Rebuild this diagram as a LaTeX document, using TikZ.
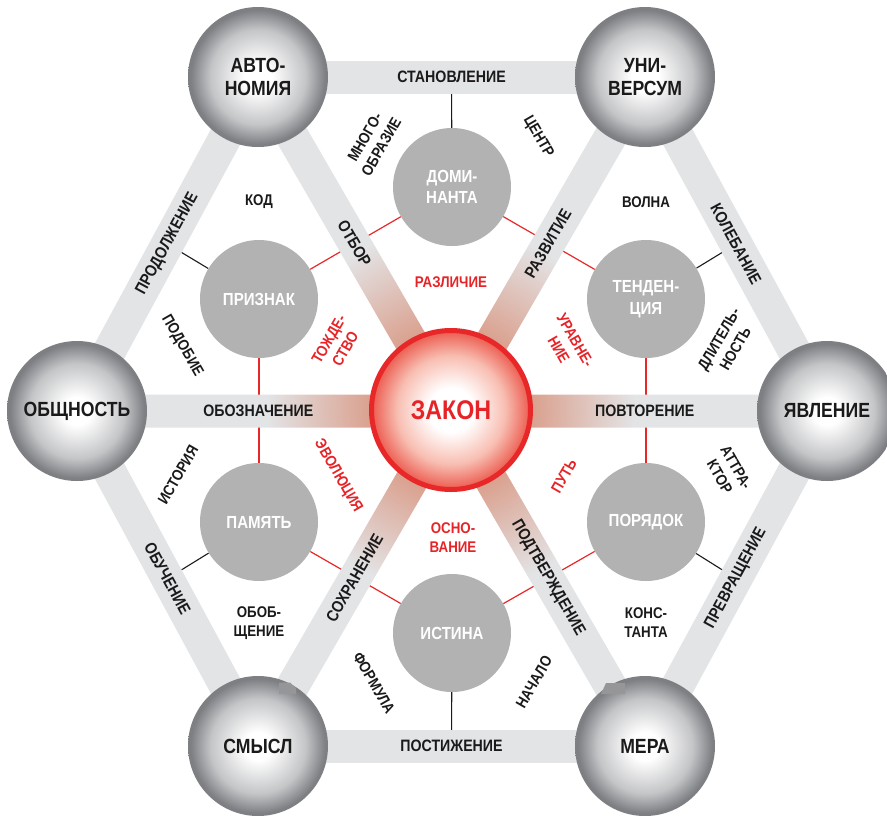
\documentclass[tikz,border=0pt]{standalone}
\usepackage{fontspec}
\setmainfont{Liberation Sans}[FakeStretch=0.86]
\usetikzlibrary{calc}
\definecolor{bargray}{RGB}{227,228,230}
\definecolor{spokered}{RGB}{218,160,142}
\definecolor{sphdark}{RGB}{126,127,131}
\definecolor{sphmid}{RGB}{196,197,199}
\definecolor{innergray}{RGB}{178,178,178}
\definecolor{zred}{RGB}{232,40,40}
\definecolor{zredfill}{RGB}{236,90,78}
\definecolor{zredmid}{RGB}{248,190,178}
\definecolor{txtred}{RGB}{230,36,40}
\definecolor{txtblk}{RGB}{26,26,26}
\definecolor{patchgray}{RGB}{150,150,153}
\pgfdeclareradialshading{graysph}{\pgfpoint{0bp}{0bp}}{color(0bp)=(white); color(5bp)=(white); color(17bp)=(sphmid); color(24bp)=(sphdark); color(25bp)=(sphdark); color(50bp)=(sphdark)}
\pgfdeclareradialshading{redsph}{\pgfpoint{0bp}{0bp}}{color(0bp)=(white); color(7bp)=(white); color(17bp)=(zredmid); color(25bp)=(zredfill); color(50bp)=(zredfill)}
\pgfdeclareradialshading{spokesh}{\pgfpoint{0bp}{0bp}}{color(0bp)=(spokered); color(5bp)=(spokered); color(11.5bp)=(bargray); color(50bp)=(bargray)}
\pgfdeclarelayer{lines}
\pgfdeclarelayer{bars}
\pgfsetlayers{lines,bars,main}
\begin{document}
\begin{tikzpicture}[x=1pt,y=-1pt,
  sph/.style={circle, inner sep=0pt, minimum size=140pt, shade, shading=graysph, align=center, text=txtblk, font=\fontsize{20.5}{23}\selectfont\bfseries},
  inn/.style={circle, inner sep=0pt, minimum size=118pt, fill=innergray, align=center, text=white, font=\fontsize{17.5}{21.5}\selectfont\bfseries},
  zakstyle/.style={circle, inner sep=0pt, minimum size=159pt, shade, shading=redsph, draw=zred, line width=5pt, text=txtred, font=\fontsize{27}{30}\selectfont\bfseries},
  bar/.style={line width=33pt, draw=bargray},
  barlbl/.style={font=\fontsize{16.5}{19}\selectfont\bfseries, text=txtblk, inner sep=0pt},
  blbl/.style={align=center, font=\fontsize{15.5}{19}\selectfont\bfseries, text=txtblk, inner sep=0pt},
  rlbl/.style={align=center, font=\fontsize{15.5}{19}\selectfont\bfseries, text=txtred, inner sep=0pt},
  blk/.style={draw=txtblk, line width=1.1pt},
  redl/.style={draw=zred, line width=1.2pt}]
\useasboundingbox (0,0) rectangle (887,815);

% outer spheres
\node[sph] (aut) at (258,77) {АВТО-\\НОМИЯ};
\node[sph] (uni) at (645,77) {УНИ-\\ВЕРСУМ};
\node[sph] (yav) at (827,411) {ЯВЛЕНИЕ};
\node[sph] (mer) at (645,746) {МЕРА};
\node[sph] (sms) at (258,746) {СМЫСЛ};
\node[sph] (obs) at (77,411) {ОБЩНОСТЬ};
% centre
\node[zakstyle] (zak) at (451,410) {ЗАКОН};
% inner circles
\node[inn] (dom) at (452,187) {ДОМИ-\\НАНТА};
\node[inn] (ten) at (646,299) {ТЕНДЕН-\\ЦИЯ};
\node[inn] (por) at (646,522) {ПОРЯДОК};
\node[inn] (ist) at (452,633) {ИСТИНА};
\node[inn] (pam) at (259,522) {ПАМЯТЬ};
\node[inn] (pri) at (259,299) {ПРИЗНАК};

% edge midpoints
\coordinate (mT) at ($(aut.center)!0.5!(uni.center)$);
\coordinate (mTR) at ($(uni.center)!0.5!(yav.center)$);
\coordinate (mBR) at ($(yav.center)!0.5!(mer.center)$);
\coordinate (mB) at ($(mer.center)!0.5!(sms.center)$);
\coordinate (mBL) at ($(sms.center)!0.5!(obs.center)$);
\coordinate (mTL) at ($(obs.center)!0.5!(aut.center)$);

\begin{pgfonlayer}{lines}
\draw[blk] (dom) -- (mT);
\draw[blk] (ten) -- (mTR);
\draw[blk] (por) -- (mBR);
\draw[blk] (ist) -- (mB);
\draw[blk] (pam) -- (mBL);
\draw[blk] (pri) -- (mTL);
\draw[redl] (pri) -- (dom);
\draw[redl] (dom) -- (ten);
\draw[redl] (ten) -- (por);
\draw[redl] (por) -- (ist);
\draw[redl] (ist) -- (pam);
\draw[redl] (pam) -- (pri);
\end{pgfonlayer}

\begin{pgfonlayer}{bars}
\draw[bar] (aut.center) -- (uni.center) node[barlbl, midway, sloped] {СТАНОВЛЕНИЕ};
\draw[bar] (uni.center) -- (yav.center) node[barlbl, midway, sloped] {КОЛЕБАНИЕ};
\draw[bar] (yav.center) -- (mer.center) node[barlbl, midway, sloped] {ПРЕВРАЩЕНИЕ};
\draw[bar] (mer.center) -- (sms.center) node[barlbl, midway, sloped] {ПОСТИЖЕНИЕ};
\draw[bar] (sms.center) -- (obs.center) node[barlbl, midway, sloped] {ОБУЧЕНИЕ};
\draw[bar] (obs.center) -- (aut.center) node[barlbl, midway, sloped] {ПРОДОЛЖЕНИЕ};
\begin{scope}
\clip ($(aut.center)!16.5pt!90:(mer.center)$) -- ($(mer.center)!16.5pt!-90:(aut.center)$) -- ($(mer.center)!16.5pt!90:(aut.center)$) -- ($(aut.center)!16.5pt!-90:(mer.center)$) -- cycle
      ($(uni.center)!16.5pt!90:(sms.center)$) -- ($(sms.center)!16.5pt!-90:(uni.center)$) -- ($(sms.center)!16.5pt!90:(uni.center)$) -- ($(uni.center)!16.5pt!-90:(sms.center)$) -- cycle
      ($(obs.center)!16.5pt!90:(yav.center)$) -- ($(yav.center)!16.5pt!-90:(obs.center)$) -- ($(yav.center)!16.5pt!90:(obs.center)$) -- ($(obs.center)!16.5pt!-90:(yav.center)$) -- cycle;
\shade[shading=spokesh] (zak.center) circle (400pt);
\end{scope}
\path (zak.center) -- (aut.center) node[barlbl, sloped, pos=0.5] {ОТБОР};
\path (zak.center) -- (uni.center) node[barlbl, sloped, pos=0.5] {РАЗВИТИЕ};
\path (zak.center) -- (yav.center) node[barlbl, sloped, pos=0.515] {ПОВТОРЕНИЕ};
\path (zak.center) -- (mer.center) node[barlbl, sloped, pos=0.5] {ПОДТВЕРЖДЕНИЕ};
\path (zak.center) -- (sms.center) node[barlbl, sloped, pos=0.5] {СОХРАНЕНИЕ};
\path (zak.center) -- (obs.center) node[barlbl, sloped, pos=0.515] {ОБОЗНАЧЕНИЕ};
\end{pgfonlayer}

% small folded patches
\fill[patchgray] (279,682.5) -- (290,682.5) -- (296,688) -- (296,694) -- (279,694) -- cycle;
\fill[patchgray] (606,683) -- (625,683) -- (625,694) -- (601,694) -- cycle;

% black labels
\node[blbl, rotate=60] (l1) at (373,142) {МНОГО-\\ОБРАЗИЕ};
\node[blbl, rotate=-60] (l2) at (538,137) {ЦЕНТР};
\node[blbl] (l3) at (259,202) {КОД};
\node[blbl] (l4) at (646,202) {ВОЛНА};
\node[blbl, rotate=-60] (l5) at (182,346) {ПОДОБИЕ};
\node[blbl, rotate=60] (l6) at (727,344) {ДЛИТЕЛЬ-\\НОСТЬ};
\node[blbl, rotate=60] (l7) at (178,475) {ИСТОРИЯ};
\node[blbl, rotate=-60] (l8) at (728,472) {АТТРА-\\КТОР};
\node[blbl] (l9) at (259,623) {ОБОБ-\\ЩЕНИЕ};
\node[blbl] (l10) at (646,623) {КОНС-\\ТАНТА};
\node[blbl, rotate=-60] (l11) at (374,683) {ФОРМУЛА};
\node[blbl, rotate=60] (l12) at (534,682) {НАЧАЛО};

% red labels
\node[rlbl] (r1) at (451,282) {РАЗЛИЧИЕ};
\node[rlbl, rotate=60] (r2) at (337,344) {ТОЖДЕ-\\СТВО};
\node[rlbl, rotate=-60] (r3) at (567,345) {УРАВНЕ-\\НИЕ};
\node[rlbl, rotate=-60] (r4) at (338,476) {ЭВОЛЮЦИЯ};
\node[rlbl, rotate=60] (r5) at (564,476) {ПУТЬ};
\node[rlbl] (r6) at (453,538) {ОСНО-\\ВАНИЕ};
\end{tikzpicture}
\end{document}
